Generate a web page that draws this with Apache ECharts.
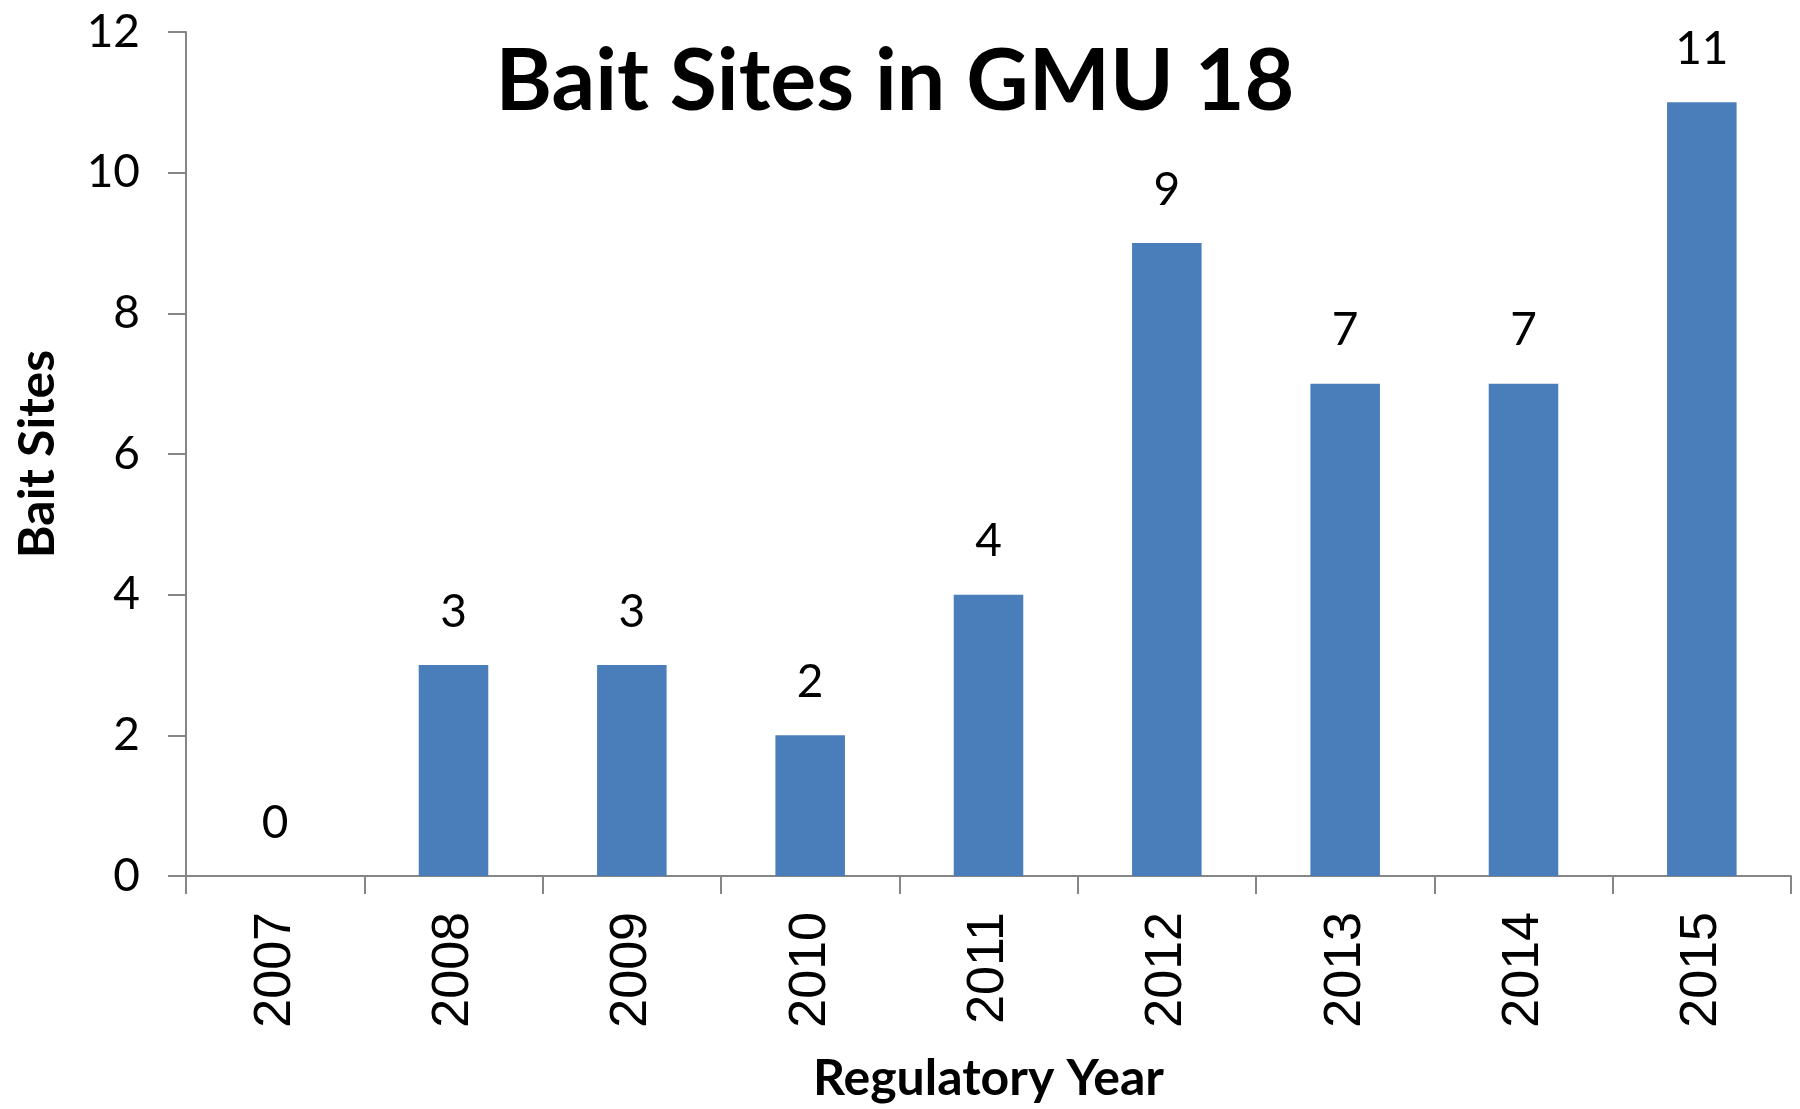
<!DOCTYPE html>
<html>
<head>
<meta charset="utf-8">
<script src="https://cdn.jsdelivr.net/npm/echarts@6/dist/echarts.min.js"></script>
<style>
  html, body { margin: 0; padding: 0; background: #fff; }
  #chart { width: 1800px; height: 1109px; }
</style>
</head>
<body>
<div id="chart"></div>
<script>
var years = ['2007', '2008', '2009', '2010', '2011', '2012', '2013', '2014', '2015'];
var baitSites = [0, 3, 3, 2, 4, 9, 7, 7, 11];

var chart = echarts.init(document.getElementById('chart'));

var option = {
  backgroundColor: '#fff',
  title: {
    text: 'Bait Sites in GMU 18',
    left: 890,
    top: 34,
    textAlign: 'center',
    textStyle: { fontFamily: 'Lato', fontWeight: 'bold', fontSize: 86, color: '#000' }
  },
  grid: { left: 186, right: 9, top: 32, bottom: 233, containLabel: false, outerBoundsMode: 'none' },
  xAxis: {
    type: 'category',
    data: years,
    name: 'Regulatory Year',
    nameLocation: 'middle',
    nameGap: 178,
    nameTextStyle: { fontFamily: 'Lato', fontWeight: 'bold', fontSize: 50, color: '#000' },
    axisLine: { lineStyle: { color: '#868686', width: 2 } },
    axisTick: { show: true, length: 18, lineStyle: { color: '#868686', width: 2 } },
    axisLabel: {
      rotate: 90,
      margin: 36,
      fontFamily: 'Liberation Sans',
      fontSize: 52,
      color: '#000'
    }
  },
  yAxis: {
    type: 'value',
    min: 0,
    max: 12,
    interval: 2,
    name: 'Bait Sites',
    nameLocation: 'middle',
    nameGap: 123,
    nameTextStyle: { fontFamily: 'Lato', fontWeight: 'bold', fontSize: 50, color: '#000' },
    axisLine: { show: true, lineStyle: { color: '#868686', width: 2 } },
    axisTick: { show: true, length: 18, lineStyle: { color: '#868686', width: 2 } },
    axisLabel: { margin: 46, fontFamily: 'Lato', fontSize: 46, color: '#000' },
    splitLine: { show: false }
  },
  series: [{
    type: 'bar',
    data: baitSites,
    barWidth: '39%',
    itemStyle: { color: '#4a7ebb' },
    label: {
      show: true,
      position: 'top',
      distance: 30,
      fontFamily: 'Lato',
      fontSize: 46,
      color: '#000'
    }
  }]
};

chart.setOption(option);
</script>
</body>
</html>
